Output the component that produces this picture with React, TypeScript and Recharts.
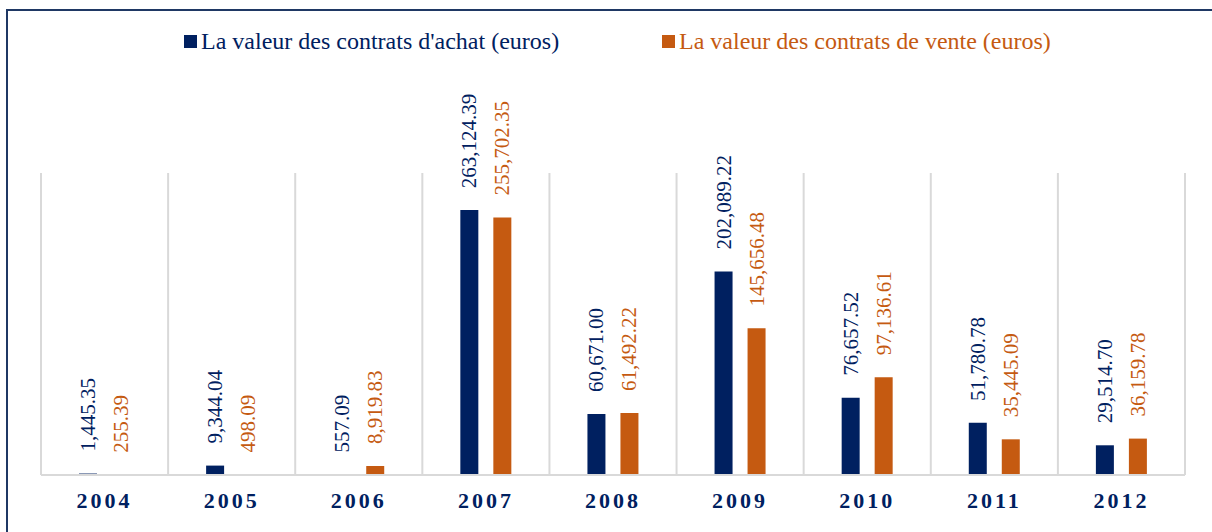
import { BarChart, Bar, XAxis, YAxis, CartesianGrid, LabelList } from "recharts"

// Années (catégories)
const years = ["2004", "2005", "2006", "2007", "2008", "2009", "2010", "2011", "2012"]

// Valeur des contrats d'achat (euros)
const achat = [1445.35, 9344.04, 557.09, 263124.39, 60671.0, 202089.22, 76657.52, 51780.78, 29514.7]

// Valeur des contrats de vente (euros)
const vente = [255.39, 498.09, 8919.83, 255702.35, 61492.22, 145656.48, 97136.61, 35445.09, 36159.78]

const legendLabels = ["La valeur des contrats d'achat (euros)", "La valeur des contrats de vente (euros)"]

const NAVY = "#002060"
const ORANGE = "#C55A11"
const GRID = "#D9D9D9"
const FONT = "'Liberation Serif', 'Times New Roman', serif"

const data = years.map((year, i) => ({ year, achat: achat[i], vente: vente[i] }))

const fmt = (v: number) =>
  v.toLocaleString("en-US", { minimumFractionDigits: 2, maximumFractionDigits: 2 })

// étiquette verticale au-dessus de la barre
const makeLabel = (color: string) => (props: any) => {
  const { x, y, width, value } = props
  const cx = Number(x) + Number(width) / 2
  const ty = Number(y) - 22
  return (
    <text
      x={cx}
      y={ty}
      transform={`rotate(-90, ${cx}, ${ty})`}
      textAnchor="start"
      dominantBaseline="central"
      fill={color}
      fontSize={21}
      fontFamily={FONT}
    >
      {fmt(Number(value))}
    </text>
  )
}

const YearTick = ({ x, y, payload }: any) => (
  <text
    x={x}
    y={y + 33}
    textAnchor="middle"
    fill={NAVY}
    fontSize={22}
    fontWeight="bold"
    letterSpacing={3}
    fontFamily={FONT}
  >
    {payload.value}
  </text>
)

// lignes verticales entre les catégories
const categoryBounds = ({ offset }: any) =>
  years.map((_, i) => offset.left + (i * offset.width) / years.length).concat(offset.left + offset.width)

export default function App() {
  return (
    <div style={{ position: "absolute", left: 0, top: 0, width: 1212, height: 532, overflow: "hidden", background: "#fff" }}>
      <div
        style={{
          position: "absolute",
          left: 6,
          top: 9,
          width: 1400,
          height: 700,
          borderLeft: "2px solid #1F3864",
          borderTop: "2px solid #1F3864",
        }}
      />
      <svg width={1212} height={60} style={{ position: "absolute", left: 0, top: 0 }}>
        <rect x={184} y={35} width={13} height={13} fill={NAVY} />
        <text x={201} y={49} fontSize={24} fontFamily={FONT} fill={NAVY}>
          {legendLabels[0]}
        </text>
        <rect x={662} y={35} width={13} height={13} fill={ORANGE} />
        <text x={679} y={49} fontSize={24} fontFamily={FONT} fill={ORANGE}>
          {legendLabels[1]}
        </text>
      </svg>
      <div style={{ position: "absolute", left: 0, top: 0 }}>
        <BarChart
          width={1212}
          height={532}
          data={data}
          margin={{ top: 173, right: 27, bottom: 0, left: 41 }}
          barSize={18}
          barGap={15}
        >
          <CartesianGrid
            horizontal={false}
            stroke={GRID}
            strokeWidth={2}
            verticalCoordinatesGenerator={categoryBounds}
          />
          <XAxis
            dataKey="year"
            height={57}
            tickSize={0}
            tickMargin={0}
            tickLine={false}
            axisLine={{ stroke: GRID, strokeWidth: 2 }}
            tick={<YearTick />}
            interval={0}
          />
          <YAxis hide domain={[0, 300000]} />
          <Bar dataKey="achat" fill={NAVY} isAnimationActive={false}>
            <LabelList dataKey="achat" content={makeLabel(NAVY)} />
          </Bar>
          <Bar dataKey="vente" fill={ORANGE} isAnimationActive={false}>
            <LabelList dataKey="vente" content={makeLabel(ORANGE)} />
          </Bar>
        </BarChart>
      </div>
    </div>
  )
}
